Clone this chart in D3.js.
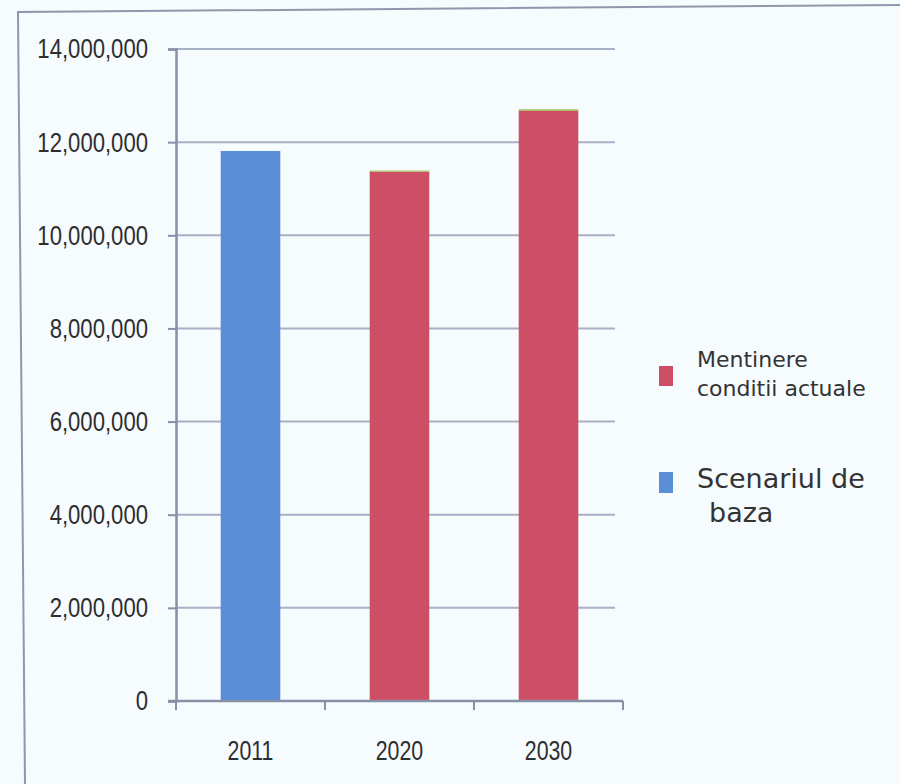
<!DOCTYPE html>
<html>
<head>
<meta charset="utf-8">
<script src="https://cdn.jsdelivr.net/npm/d3@7"></script>
<style>
  html, body { margin: 0; padding: 0; background: #f6fbfe; }
  svg { display: block; }
</style>
</head>
<body>
<svg id="chart" width="900" height="784"></svg>
<script>
// Population scenarios by year (stacked columns)
const years = ["2011", "2020", "2030"];
const scenariulDeBaza = [11810000, 0, 0];
const mentinereConditii = [0, 11365000, 12670000];
const restScenarii = [0, 25000, 35000];
const yTicks = [0, 2000000, 4000000, 6000000, 8000000, 10000000, 12000000, 14000000];

const seriesNames = ["Scenariul de baza", "Mentinere conditii actuale", "Alte"];
const seriesColors = ["#5a8fd8", "#cd4f66", "#a8b95a"];

const rows = years.map((y, i) => ({
  year: y,
  "Scenariul de baza": scenariulDeBaza[i],
  "Mentinere conditii actuale": mentinereConditii[i],
  "Alte": restScenarii[i]
}));

const svg = d3.select("#chart");
const axisFont = "'Liberation Sans', Arial, sans-serif";
const legendFont = "'DejaVu Sans', Verdana, sans-serif";
const narrow = 0.79; // horizontal squeeze for the axis labels

// outer frame
svg.append("path")
  .attr("d", "M900,5 L18,12 L25,784")
  .attr("fill", "none")
  .attr("stroke", "#8e97ab")
  .attr("stroke-width", 2);

const x = d3.scaleBand().domain(years).range([176, 623]).paddingInner(0.6).paddingOuter(0.3);
const y = d3.scaleLinear().domain([0, 14000000]).range([701, 49]);

// gridlines
svg.append("g").selectAll("line").data(yTicks.filter(d => d > 0)).join("line")
  .attr("x1", 176).attr("x2", 615)
  .attr("y1", d => y(d)).attr("y2", d => y(d))
  .attr("stroke", "#a7b1c6").attr("stroke-width", 2);

// y axis
const yAxis = svg.append("g").attr("transform", "translate(176,0)")
  .call(d3.axisLeft(y).tickValues(yTicks).tickSize(8).tickPadding(20)
    .tickFormat(d3.format(",")));
yAxis.select(".domain").attr("stroke", "#8791a6").attr("stroke-width", 2.5);
yAxis.selectAll(".tick line").attr("stroke", "#8791a6").attr("stroke-width", 2);
yAxis.selectAll("text")
  .attr("font-family", axisFont).attr("font-size", 28).attr("fill", "#2e2e2e")
  .attr("x", -28 / narrow)
  .attr("transform", `scale(${narrow},1)`);

// stacked columns
const stack = d3.stack().keys(seriesNames)(rows);
svg.append("g").selectAll("g").data(stack).join("g")
  .attr("fill", (d, i) => seriesColors[i])
  .selectAll("rect").data(d => d).join("rect")
  .attr("x", d => x(d.data.year))
  .attr("width", x.bandwidth())
  .attr("y", d => y(d[1]))
  .attr("height", d => y(d[0]) - y(d[1]));

// x axis
const xAxisScale = d3.scalePoint().domain([0, 1, 2, 3]).range([176, 623]);
const xg = svg.append("g").attr("transform", "translate(0,701)");
xg.append("line").attr("x1", 168).attr("x2", 623).attr("y1", 0).attr("y2", 0)
  .attr("stroke", "#8791a6").attr("stroke-width", 2.5);
xg.selectAll(".tk").data(xAxisScale.domain()).join("line")
  .attr("class", "tk")
  .attr("x1", d => xAxisScale(d)).attr("x2", d => xAxisScale(d))
  .attr("y1", 0).attr("y2", 9)
  .attr("stroke", "#8791a6").attr("stroke-width", 2);
xg.selectAll("text").data(years).join("text")
  .attr("x", d => (x(d) + x.bandwidth() / 2) / narrow)
  .attr("y", 59)
  .attr("transform", `scale(${narrow},1)`)
  .attr("text-anchor", "middle")
  .attr("font-family", axisFont).attr("font-size", 27).attr("fill", "#2e2e2e")
  .text(d => d);

// legend
const legend = svg.append("g");
legend.append("rect").attr("x", 659).attr("y", 366).attr("width", 14).attr("height", 20)
  .attr("fill", seriesColors[1]);
legend.append("text").attr("x", 697).attr("y", 367)
  .attr("font-family", legendFont).attr("font-size", 22).attr("fill", "#333")
  .text("Mentinere");
legend.append("text").attr("x", 697).attr("y", 396)
  .attr("font-family", legendFont).attr("font-size", 22).attr("fill", "#333")
  .text("conditii actuale");
legend.append("rect").attr("x", 659).attr("y", 472).attr("width", 14).attr("height", 21)
  .attr("fill", seriesColors[0]);
legend.append("text").attr("x", 697).attr("y", 488)
  .attr("font-family", legendFont).attr("font-size", 27).attr("fill", "#333")
  .text("Scenariul de");
legend.append("text").attr("x", 709).attr("y", 522)
  .attr("font-family", legendFont).attr("font-size", 27).attr("fill", "#333")
  .text("baza");
</script>
</body>
</html>
